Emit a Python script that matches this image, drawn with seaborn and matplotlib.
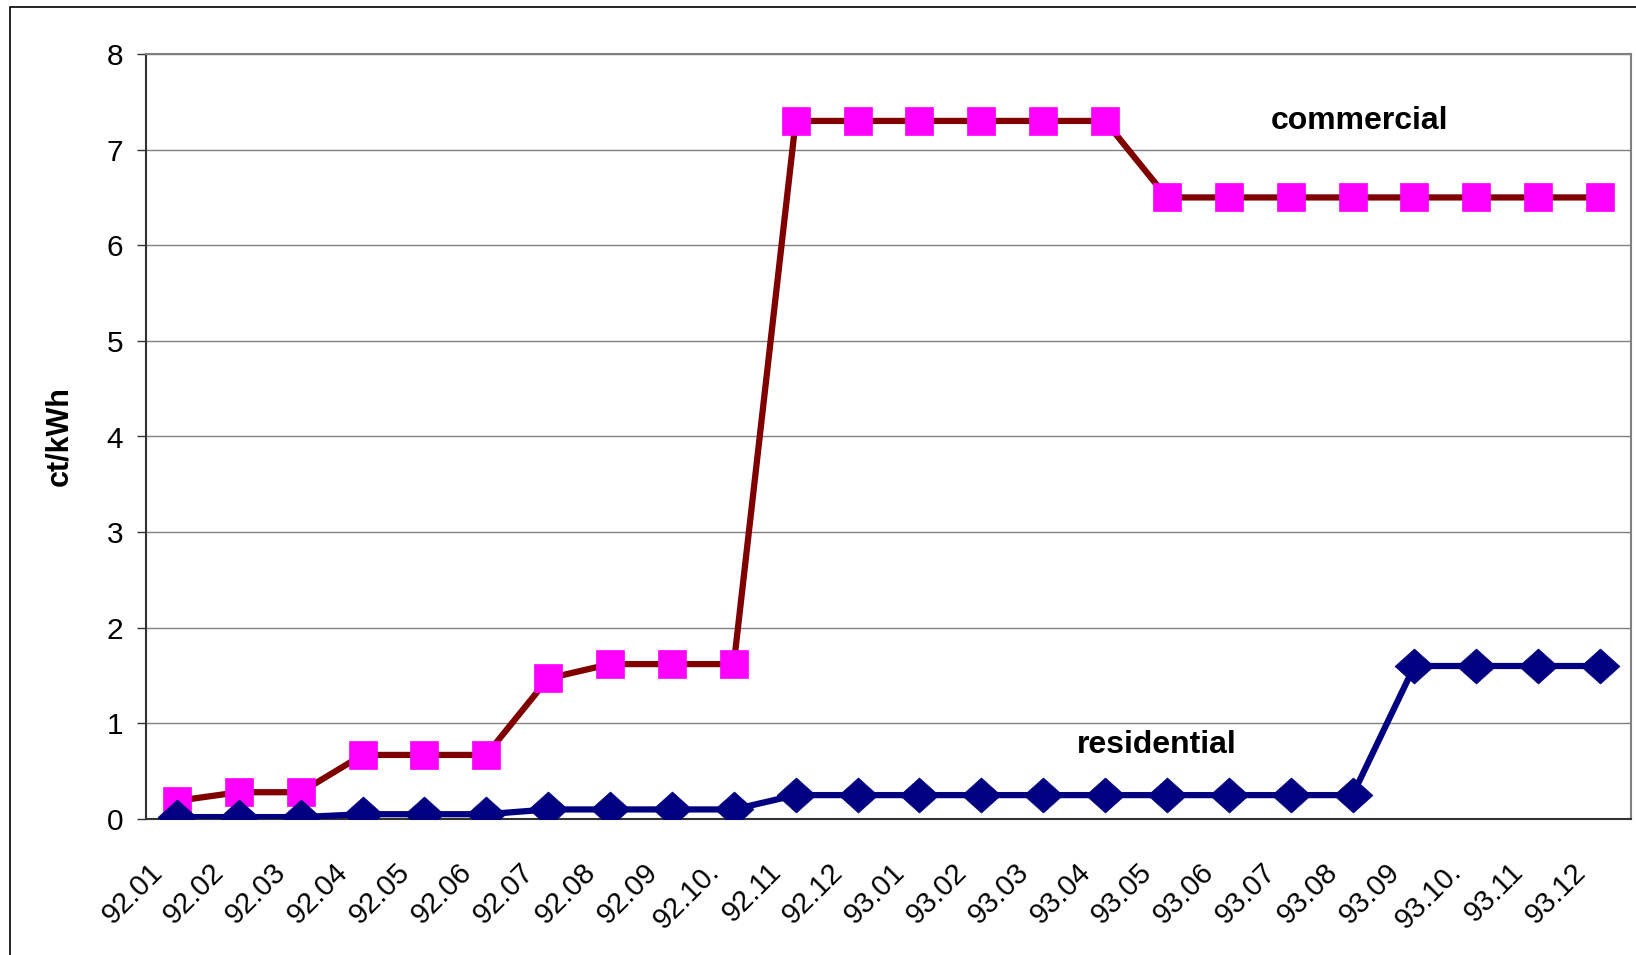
import numpy as np
import pandas as pd
import matplotlib
matplotlib.use("Agg")
import matplotlib.pyplot as plt
import matplotlib.transforms as mtransforms
from matplotlib.patches import Rectangle
import seaborn as sns

months = ['92.01', '92.02', '92.03', '92.04', '92.05', '92.06', '92.07', '92.08',
          '92.09', '92.10.', '92.11', '92.12', '93.01', '93.02', '93.03', '93.04',
          '93.05', '93.06', '93.07', '93.08', '93.09', '93.10.', '93.11', '93.12']
commercial = [0.19, 0.28, 0.28, 0.67, 0.67, 0.67, 1.47, 1.62, 1.62, 1.62,
              7.3, 7.3, 7.3, 7.3, 7.3, 7.3,
              6.5, 6.5, 6.5, 6.5, 6.5, 6.5, 6.5, 6.5]
residential = [0.02, 0.02, 0.02, 0.05, 0.05, 0.05, 0.1, 0.1, 0.1, 0.1,
               0.25, 0.25, 0.25, 0.25, 0.25, 0.25, 0.25, 0.25, 0.25, 0.25,
               1.6, 1.6, 1.6, 1.6]
y_ticks = [0, 1, 2, 3, 4, 5, 6, 7, 8]

df = pd.DataFrame({'pos': np.arange(len(months)), 'month': months,
                   'commercial': commercial, 'residential': residential})

sns.set_style("white")
plt.rcParams['font.family'] = ['Liberation Sans', 'DejaVu Sans']
for key in ['text.color', 'axes.labelcolor', 'xtick.color', 'ytick.color']:
    plt.rcParams[key] = 'black'

W, H = 1636, 955
fig = plt.figure(figsize=(W / 100, H / 100), dpi=100)
ax = fig.add_axes([146 / W, 1 - 819 / H, (1631 - 146) / W, (819 - 54) / H])

# slightly flattened diamond like the Excel marker
diamond = [(-1, 0), (0, 0.9), (1, 0), (0, -0.9), (-1, 0)]

sns.lineplot(data=df, x='pos', y='commercial', ax=ax, color='#800000', lw=4.5,
             marker='s', markersize=20, markerfacecolor='#FF00FF',
             markeredgecolor='#FF00FF', markeredgewidth=0.5, zorder=3)
sns.lineplot(data=df, x='pos', y='residential', ax=ax, color='#000080', lw=4.5,
             marker=diamond, markersize=28, markerfacecolor='#000080',
             markeredgecolor='#000080', markeredgewidth=0.5, zorder=4)

ax.set_xlim(-0.5, len(months) - 0.5)
ax.set_ylim(0, 8)
ax.set_yticks(y_ticks)
ax.set_xticks(df['pos'])
ax.set_xticklabels(months, rotation=45, ha='right', va='top', rotation_mode='anchor')
ax.set_xticks(np.arange(len(months) + 1) - 0.5, minor=True)

ax.tick_params(axis='x', which='major', length=0, pad=28, labelsize=21)
ax.tick_params(axis='x', which='minor', length=6.5, width=1, color='#333333', direction='out')
ax.tick_params(axis='y', which='major', length=6.5, width=1, color='#333333',
               direction='out', pad=10, labelsize=21.5, left=True)

shift = mtransforms.ScaledTranslation(-29 / 100, 0, fig.dpi_scale_trans)
for lab in ax.get_xticklabels():
    lab.set_transform(lab.get_transform() + shift)

ax.yaxis.grid(True, color='#808080', lw=1)
ax.set_axisbelow(True)
for side in ['left', 'bottom']:
    ax.spines[side].set_color('#333333')
    ax.spines[side].set_linewidth(1.5)
for side in ['right', 'top']:
    ax.spines[side].set_color('#808080')
    ax.spines[side].set_linewidth(1.5)

ax.set_xlabel('')
ax.set_ylabel('ct/kWh', fontsize=22, fontweight='bold')
ax.yaxis.set_label_coords(-0.0485, 0.5)

ax.text(19.12, 7.22, 'commercial', ha='center', va='baseline', fontsize=23, fontweight='bold')
ax.text(15.83, 0.69, 'residential', ha='center', va='baseline', fontsize=23, fontweight='bold')

# outer chart frame (right and bottom edges fall outside the picture)
fig.add_artist(Rectangle((10 / W, -0.1), 1.2, 1.1 - 7 / H, transform=fig.transFigure,
                         fill=False, ec='black', lw=1.2))

fig.savefig('out.png', dpi=100)
